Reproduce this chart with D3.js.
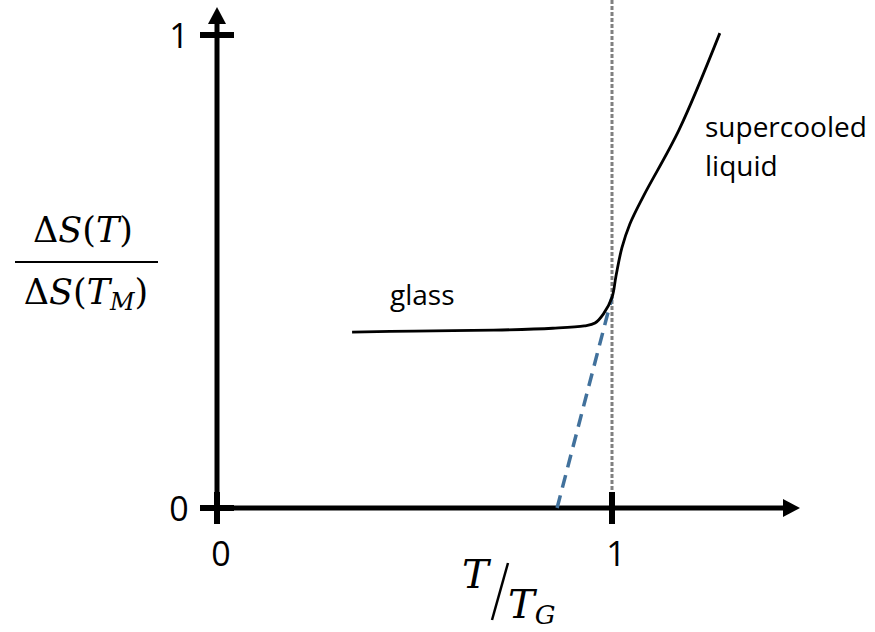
<!DOCTYPE html>
<html>
<head>
<meta charset="utf-8">
<script src="https://cdn.jsdelivr.net/npm/d3@7"></script>
<style>
  body { margin: 0; background: #fff; }
  svg { display: block; }
</style>
</head>
<body>
<div id="chart"></div>
<script>
// Tick values on each axis
var xTicks = [0, 1];
var yTicks = [0, 1];

// Entropy curve: glass branch then supercooled liquid (T/Tg, dS ratio)
var curveX = [0.342, 0.5, 0.7, 0.85, 0.93, 0.957, 0.978, 1.0, 1.01, 1.025, 1.045, 1.08, 1.17, 1.273];
var curveY = [0.372, 0.374, 0.376, 0.380, 0.385, 0.391, 0.410, 0.445, 0.49, 0.55, 0.60, 0.66, 0.80, 1.004];

// Dashed extrapolation of the liquid line down to zero
var extrapX = [0.861, 1.0];
var extrapY = [0, 0.446];

// Glass transition marker
var tgX = [1, 1];
var tgY = [0, 1.075];

var svgWidth = 875;
var svgHeight = 632;

var svg = d3.select("#chart")
  .append("svg")
    .attr("width", svgWidth)
    .attr("height", svgHeight);

var x = d3.scaleLinear().domain([0, 1]).range([217, 612]);
var y = d3.scaleLinear().domain([0, 1]).range([508, 35]);

var xMax = x.invert(783);   // where arrow head starts
var yMax = y.invert(24);

var line = d3.line()
  .x(function(d) { return x(d[0]); })
  .y(function(d) { return y(d[1]); });

// vertical dotted line at Tg
svg.append("path")
  .attr("d", line(d3.zip(tgX, tgY)))
  .attr("stroke", "#808080")
  .attr("stroke-width", 3)
  .attr("stroke-dasharray", "4,2")
  .attr("fill", "none");

// axes
svg.append("line")
  .attr("x1", x(0)).attr("y1", y(0))
  .attr("x2", x(xMax)).attr("y2", y(0))
  .attr("stroke", "#000").attr("stroke-width", 5);
svg.append("path")
  .attr("d", "M" + x(xMax) + "," + (y(0) - 9) + "L" + (x(xMax) + 17) + "," + y(0) + "L" + x(xMax) + "," + (y(0) + 9) + "Z")
  .attr("fill", "#000");

svg.append("line")
  .attr("x1", x(0)).attr("y1", y(0) + 15)
  .attr("x2", x(0)).attr("y2", y(yMax))
  .attr("stroke", "#000").attr("stroke-width", 5);
svg.append("path")
  .attr("d", "M" + (x(0) - 9) + "," + y(yMax) + "L" + x(0) + "," + (y(yMax) - 17) + "L" + (x(0) + 9) + "," + y(yMax) + "Z")
  .attr("fill", "#000");

// ticks crossing the axes
svg.selectAll(".xtick")
  .data(xTicks)
  .enter()
  .append("line")
  .attr("x1", function(d) { return x(d); })
  .attr("x2", function(d) { return x(d); })
  .attr("y1", y(0) - 16)
  .attr("y2", y(0) + 16)
  .attr("stroke", "#000")
  .attr("stroke-width", 6);

svg.selectAll(".ytick")
  .data(yTicks)
  .enter()
  .append("line")
  .attr("x1", x(0) - 17)
  .attr("x2", x(0) + 17)
  .attr("y1", function(d) { return y(d); })
  .attr("y2", function(d) { return y(d); })
  .attr("stroke", "#000")
  .attr("stroke-width", 6);

// tick labels
svg.selectAll(".xlab")
  .data(xTicks)
  .enter()
  .append("text")
  .attr("x", function(d) { return x(d) + 4; })
  .attr("y", y(0) + 58)
  .attr("text-anchor", "middle")
  .attr("font-family", "Open Sans")
  .attr("font-size", 34)
  .text(function(d) { return d; });

svg.selectAll(".ylab")
  .data(yTicks)
  .enter()
  .append("text")
  .attr("x", x(0) - 38)
  .attr("y", function(d) { return y(d) + 13; })
  .attr("text-anchor", "middle")
  .attr("font-family", "Open Sans")
  .attr("font-size", 34)
  .text(function(d) { return d; });

// dashed blue extrapolation
svg.append("path")
  .attr("d", line(d3.zip(extrapX, extrapY)))
  .attr("stroke", "#41719c")
  .attr("stroke-width", 3.5)
  .attr("stroke-dasharray", "13,8")
  .attr("fill", "none");

// main curve
svg.append("path")
  .attr("d", line.curve(d3.curveCatmullRom)(d3.zip(curveX, curveY)))
  .attr("stroke", "#000")
  .attr("stroke-width", 2.8)
  .attr("fill", "none");

// curve labels
svg.append("text")
  .attr("x", 390).attr("y", 305)
  .attr("font-family", "Open Sans")
  .attr("font-size", 28)
  .text("glass");

var liq = svg.append("text")
  .attr("font-family", "Open Sans")
  .attr("font-size", 28);
liq.append("tspan").attr("x", 705).attr("y", 137).text("supercooled");
liq.append("tspan").attr("x", 705).attr("y", 176).text("liquid");

// y axis label (fraction)
var serif = "DejaVu Serif";
var numer = svg.append("text")
  .attr("x", 83).attr("y", 242)
  .attr("text-anchor", "middle")
  .attr("font-family", serif)
  .attr("font-size", 35);
numer.append("tspan").text("\u0394");
numer.append("tspan").attr("font-style", "italic").text("S");
numer.append("tspan").text("(");
numer.append("tspan").attr("font-style", "italic").text("T");
numer.append("tspan").text(")");

svg.append("line")
  .attr("x1", 15).attr("x2", 158)
  .attr("y1", 262).attr("y2", 262)
  .attr("stroke", "#000").attr("stroke-width", 2);

var denom = svg.append("text")
  .attr("x", 86).attr("y", 304)
  .attr("text-anchor", "middle")
  .attr("font-family", serif)
  .attr("font-size", 35);
denom.append("tspan").text("\u0394");
denom.append("tspan").attr("font-style", "italic").text("S");
denom.append("tspan").text("(");
denom.append("tspan").attr("font-style", "italic").text("T");
denom.append("tspan").attr("font-style", "italic").attr("font-size", 24).attr("dy", 6).text("M");
denom.append("tspan").attr("dy", -6).text(")");

// x axis label T / T_G
svg.append("text")
  .attr("x", 462).attr("y", 588)
  .attr("font-family", serif)
  .attr("font-style", "italic")
  .attr("font-size", 40)
  .text("T");
svg.append("line")
  .attr("x1", 492).attr("y1", 620)
  .attr("x2", 508).attr("y2", 563)
  .attr("stroke", "#000").attr("stroke-width", 2.5);
var tg = svg.append("text")
  .attr("x", 508).attr("y", 618)
  .attr("font-family", serif)
  .attr("font-style", "italic")
  .attr("font-size", 40);
tg.append("tspan").text("T");
tg.append("tspan").attr("font-size", 26).attr("dy", 6).text("G");
</script>
</body>
</html>
